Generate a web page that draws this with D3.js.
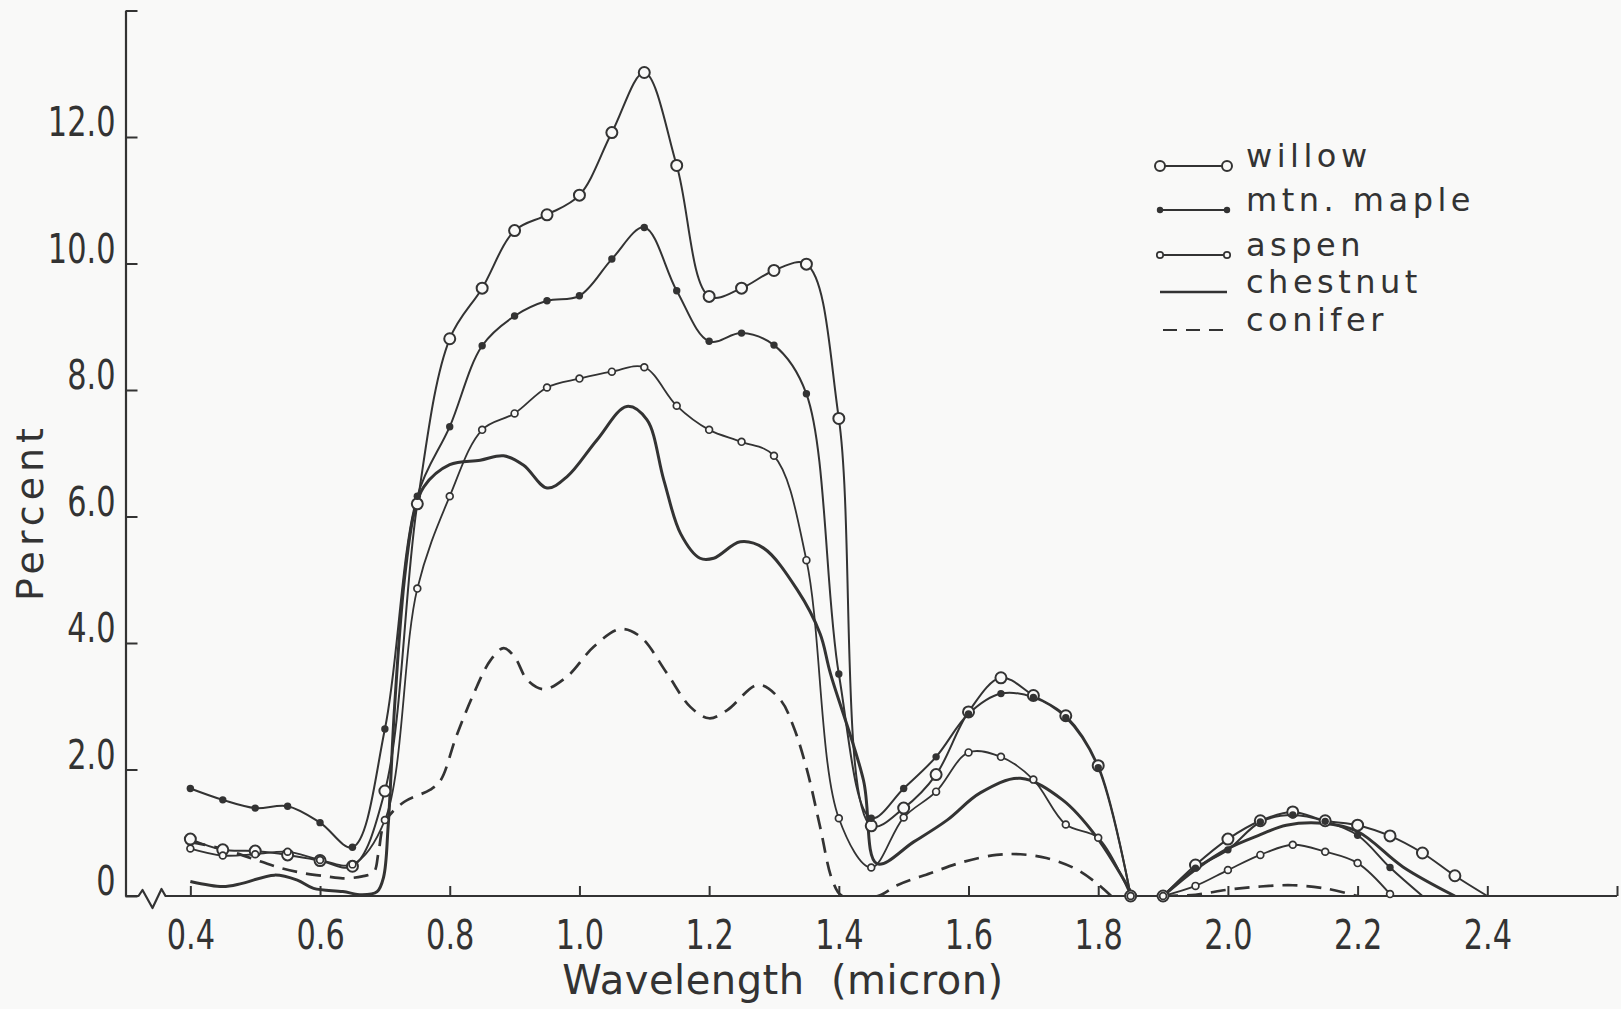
<!DOCTYPE html>
<html>
<head>
<meta charset="utf-8">
<script src="https://cdn.jsdelivr.net/npm/d3@7/dist/d3.min.js"></script>
<style>
  body { margin: 0; background: #f9f9f8; }
  svg { display: block; }
  text { font-family: "DejaVu Sans", sans-serif; fill: #333; }
</style>
</head>
<body>
<svg id="chart" width="1621" height="1009"></svg>
<script>
// reflectance (percent) against wavelength (micron)
// null = the curve is lifted off between the water bands
var willow = [[0.4,0.90],[0.45,0.73],[0.5,0.71],[0.55,0.65],[0.6,0.56],[0.65,0.47],[0.7,1.66],[0.75,6.2],
  [0.8,8.81],[0.85,9.61],[0.9,10.52],[0.95,10.77],[1.0,11.08],[1.05,12.07],[1.1,13.02],[1.15,11.55],
  [1.2,9.48],[1.25,9.61],[1.3,9.89],[1.35,9.99],[1.4,7.55],[1.45,1.11],[1.5,1.39],[1.55,1.92],[1.6,2.91],
  [1.65,3.45],[1.7,3.17],[1.75,2.85],[1.8,2.06],[1.85,0], null,
  [1.9,0],[1.95,0.49],[2.0,0.9],[2.05,1.19],[2.1,1.33],[2.15,1.19],[2.2,1.12],[2.25,0.95],[2.3,0.68],
  [2.35,0.32],[2.4,0]];
var willowBare = [2.4];

var maple = [[0.4,1.70],[0.45,1.52],[0.5,1.39],[0.55,1.42],[0.6,1.16],[0.65,0.77],[0.7,2.64],[0.75,6.32],
  [0.8,7.42],[0.85,8.70],[0.9,9.17],[0.95,9.41],[1.0,9.49],[1.05,10.07],[1.1,10.57],[1.15,9.57],
  [1.2,8.77],[1.25,8.90],[1.3,8.71],[1.35,7.94],[1.4,3.51],[1.45,1.23],[1.5,1.70],[1.55,2.20],[1.6,2.88],
  [1.65,3.20],[1.7,3.14],[1.75,2.82],[1.8,2.03],[1.85,0], null,
  [1.9,0],[1.95,0.44],[2.0,0.73],[2.05,1.17],[2.1,1.28],[2.15,1.18],[2.2,0.96],[2.25,0.45],[2.3,0]];
var mapleBare = [2.3];

var aspen = [[0.4,0.75],[0.45,0.64],[0.5,0.66],[0.55,0.70],[0.6,0.57],[0.65,0.50],[0.7,1.2],[0.75,4.86],
  [0.8,6.32],[0.85,7.37],[0.9,7.63],[0.95,8.04],[1.0,8.18],[1.05,8.29],[1.1,8.36],[1.15,7.75],
  [1.2,7.37],[1.25,7.18],[1.3,6.96],[1.35,5.31],[1.4,1.23],[1.45,0.45],[1.5,1.24],[1.55,1.65],[1.6,2.27],
  [1.65,2.20],[1.7,1.84],[1.75,1.13],[1.8,0.92],[1.85,0], null,
  [1.9,0],[1.95,0.16],[2.0,0.41],[2.05,0.65],[2.1,0.81],[2.15,0.70],[2.2,0.52],[2.25,0.03]];
var aspenBare = [];

var chestnut = [[0.4,0.23],[0.45,0.15],[0.48,0.2],[0.53,0.33],[0.565,0.25],[0.59,0.12],[0.635,0.07],
  [0.665,0.02],[0.688,0.07],[0.698,0.3],[0.705,1.1],[0.715,3.0],[0.73,5.0],[0.745,6.05],[0.76,6.47],
  [0.8,6.82],[0.847,6.89],[0.883,6.96],[0.914,6.81],[0.95,6.45],[0.981,6.63],[1.027,7.21],[1.073,7.74],
  [1.104,7.53],[1.13,6.58],[1.156,5.73],[1.186,5.34],[1.207,5.34],[1.248,5.6],[1.284,5.5],[1.336,4.84],
  [1.371,4.15],[1.387,3.52],[1.438,1.83],[1.459,0.51],[1.516,0.86],[1.567,1.2],[1.618,1.63],[1.68,1.86],
  [1.745,1.52],[1.797,0.94],[1.854,0], null,
  [1.9,0],[1.95,0.42],[2.0,0.75],[2.05,0.97],[2.09,1.12],[2.147,1.15],[2.2,1.02],[2.27,0.46],[2.35,0]];

var conifer = [[0.4,0.85],[0.44,0.77],[0.47,0.68],[0.51,0.54],[0.54,0.44],[0.575,0.36],[0.61,0.31],
  [0.635,0.28],[0.665,0.31],[0.683,0.38],[0.69,0.68],[0.70,1.17],[0.73,1.49],[0.77,1.68],[0.786,1.83],
  [0.81,2.52],[0.837,3.2],[0.863,3.73],[0.883,3.92],[0.9,3.78],[0.92,3.41],[0.945,3.27],[0.981,3.47],
  [1.022,3.94],[1.063,4.22],[1.094,4.1],[1.135,3.52],[1.171,2.99],[1.2,2.81],[1.228,2.94],[1.276,3.34],
  [1.31,3.1],[1.33,2.68],[1.351,1.99],[1.371,1.1],[1.39,0.25],[1.405,0],[1.46,0],[1.49,0.17],
  [1.541,0.36],[1.592,0.54],[1.643,0.65],[1.68,0.66],[1.72,0.6],[1.763,0.44],[1.798,0.2],[1.82,0], null,
  [1.9,0],[1.95,0.02],[2.0,0.1],[2.05,0.15],[2.1,0.17],[2.15,0.12],[2.2,0]];

var legendNames = ["willow", "mtn. maple", "aspen", "chestnut", "conifer"];
var xTicks = [0.4, 0.6, 0.8, 1.0, 1.2, 1.4, 1.6, 1.8, 2.0, 2.2, 2.4];
var yTicks = [0, 2, 4, 6, 8, 10, 12];
var xEnd = 2.6, yEnd = 14;

var ink = "#333", paper = "#f9f9f8";
var svg = d3.select("#chart");
svg.append("rect").attr("width", 1621).attr("height", 1009).attr("fill", paper);

var xScale = d3.scaleLinear().domain([0.3, xEnd]).range([125.5, 1617]);
var yScale = d3.scaleLinear().domain([0, yEnd]).range([896, 10.5]);
var narrow = 0.76; // the lettering digits are narrow

// y axis, ticks pointing inwards
var yAxis = d3.axisLeft(yScale)
  .tickValues(yTicks.concat([yEnd]))
  .tickSizeInner(-12).tickSizeOuter(0).tickPadding(10)
  .tickFormat(function(d){ return d == yEnd ? "" : (d == 0 ? "0" : d.toFixed(1)); });
var gy = svg.append("g").attr("transform", "translate(" + xScale(0.3) + ",0)").call(yAxis);
gy.attr("font-family", null).attr("font-size", null);
gy.select(".domain").attr("stroke", ink).attr("stroke-width", 2.2);
gy.selectAll(".tick line").attr("stroke", ink).attr("stroke-width", 2);
gy.selectAll(".tick text")
  .attr("font-size", 40).attr("fill", ink)
  .attr("dy", "-0.03em").attr("x", -10 / narrow)
  .attr("transform", "scale(" + narrow + ",1)");

// x axis
var xAxis = d3.axisBottom(xScale)
  .tickValues(xTicks.concat([xEnd]))
  .tickSizeInner(-10).tickSizeOuter(0).tickPadding(25)
  .tickFormat(function(d){ return d > 2.5 ? "" : d.toFixed(1); });
var gx = svg.append("g").attr("transform", "translate(0," + yScale(0) + ")").call(xAxis);
gx.attr("font-family", null).attr("font-size", null);
gx.select(".domain").remove();
gx.selectAll(".tick line").attr("stroke", ink).attr("stroke-width", 2);
gx.selectAll(".tick text")
  .attr("font-size", 40).attr("fill", ink)
  .attr("transform", "scale(" + narrow + ",1)");

// baseline with the break mark just right of the y axis
var x0 = xScale(0.3), y0 = yScale(0);
svg.append("path")
  .attr("d", "M" + x0 + "," + y0 + "H" + (x0 + 13) + "l4,-6l10,18l9,-19l4,7H" + xScale(xEnd))
  .attr("fill", "none").attr("stroke", ink).attr("stroke-width", 2.2).attr("stroke-linejoin", "round");

// axis titles
svg.append("text")
  .attr("x", 783).attr("y", 994)
  .attr("text-anchor", "middle").attr("font-size", 40)
  .style("letter-spacing", "0.5px").style("white-space", "pre")
  .text("Wavelength  (micron)");
svg.append("text")
  .attr("transform", "translate(43,512) rotate(-90)")
  .attr("text-anchor", "middle").attr("font-size", 38)
  .style("letter-spacing", "5px")
  .text("Percent");

// curves
svg.append("clipPath").attr("id", "plotclip")
  .append("rect").attr("x", x0).attr("y", 0)
  .attr("width", xScale(xEnd) - x0).attr("height", y0 + 1);

var line = d3.line()
  .defined(function(d){ return d !== null; })
  .x(function(d){ return xScale(d[0]); })
  .y(function(d){ return yScale(d[1]); })
  .curve(d3.curveCatmullRom.alpha(0.5));

var series = [
  {name: "willow", data: willow, bare: willowBare, width: 2, mark: "open", r: 5.5},
  {name: "mtn. maple", data: maple, bare: mapleBare, width: 2, mark: "dot", r: 3.7},
  {name: "aspen", data: aspen, bare: aspenBare, width: 1.8, mark: "small", r: 3.4},
  {name: "chestnut", data: chestnut, bare: null, width: 3, mark: null},
  {name: "conifer", data: conifer, bare: null, width: 2.7, mark: null, dash: "15,9"}
];

var plot = svg.append("g").attr("clip-path", "url(#plotclip)");
series.forEach(function(s){
  plot.append("path")
    .attr("d", line(s.data))
    .attr("fill", "none").attr("stroke", ink)
    .attr("stroke-width", s.width)
    .attr("stroke-dasharray", s.dash || null);
});

function drawMark(sel, s){
  if (s.mark == "dot") {
    sel.attr("r", s.r).attr("fill", ink).attr("stroke", "none");
  } else {
    sel.attr("r", s.r).attr("fill", paper).attr("stroke", ink)
      .attr("stroke-width", s.mark == "open" ? 2 : 1.7);
  }
}

series.forEach(function(s){
  if (!s.mark) return;
  var pts = s.data.filter(function(d){ return d !== null && s.bare.indexOf(d[0]) < 0; });
  svg.append("g").selectAll("circle").data(pts).enter()
    .append("circle")
    .attr("cx", function(d){ return xScale(d[0]); })
    .attr("cy", function(d){ return yScale(d[1]); })
    .call(drawMark, s);
});

// legend
var rowY = [166, 210, 255, 292, 330];
var lg = svg.append("g");
series.forEach(function(s, i){
  var y = rowY[i];
  if (s.dash) {
    lg.append("line").attr("x1", 1163).attr("x2", 1223).attr("y1", y).attr("y2", y)
      .attr("stroke", ink).attr("stroke-width", 2.2).attr("stroke-dasharray", "14,9");
  } else {
    lg.append("line").attr("x1", 1160).attr("x2", 1227).attr("y1", y).attr("y2", y)
      .attr("stroke", ink).attr("stroke-width", s.name == "chestnut" ? 2.6 : 1.8);
  }
  if (s.mark) {
    lg.selectAll(null).data([1160, 1227]).enter().append("circle")
      .attr("cx", function(d){ return d; }).attr("cy", y)
      .call(drawMark, {mark: s.mark, r: s.mark == "open" ? 5 : 3.2});
  }
  lg.append("text")
    .attr("x", 1246).attr("y", y + 1)
    .attr("font-size", 32).style("letter-spacing", "4.5px")
    .text(legendNames[i]);
});
</script>
</body>
</html>
